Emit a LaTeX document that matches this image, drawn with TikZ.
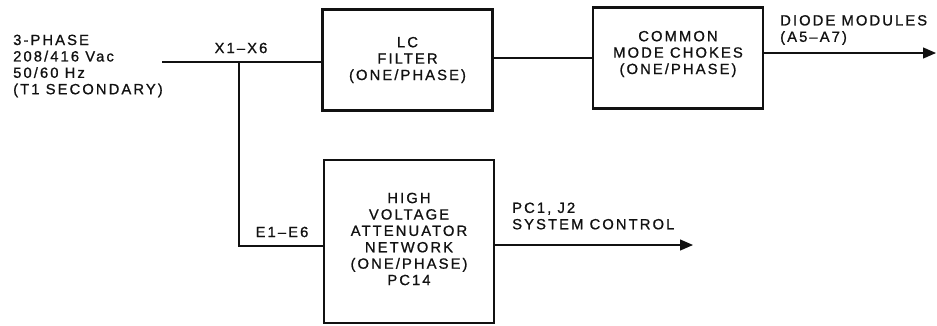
\documentclass[tikz,border=0pt]{standalone}
\usepackage{fontspec}
\setmainfont{Liberation Sans}[LetterSpace=14,FakeBold=0.9]
\usetikzlibrary{arrows.meta,positioning}
\definecolor{PSInk}{HTML}{111111}
\tikzset{
  block/.style={draw=PSInk,line width=2.4pt,minimum width=170pt,inner sep=0pt},
  wire/.style={PSInk,line width=1.3pt},
  feed/.style={wire,-{Triangle[length=13pt,width=11pt]}},
  tag/.style={text=PSInk,font=\fontsize{14.8}{16.4}\selectfont,align=center,inner sep=0pt},
  tagleft/.style={tag,align=left,anchor=west},
}

\begin{document}
\begin{tikzpicture}[x=1pt,y=1pt]
    \useasboundingbox (0,0) rectangle (937,-325);

    \node[tagleft] (source) at (13,-66) {3-PHASE\\208/416 Vac\\50/60 Hz\\(T1 SECONDARY)};

    \node[block,minimum height=101pt] (lc) at (407.5,-60) {};
    \node[tag] (lctext) at (lc) {LC\\FILTER\\(ONE/PHASE)};
    \node[block,minimum height=101pt] (cmc) at (678,-58) {};
    \node[tag] (cmctext) at (678,-54) {COMMON\\MODE CHOKES\\(ONE/PHASE)};
    \node[block,minimum height=163pt] (hv) at (409,-241.5) {};
    \node[tag] (hvtext) at (409,-239) {HIGH\\VOLTAGE\\ATTENUATOR\\NETWORK\\(ONE/PHASE)\\PC14};

    \coordinate (in) at (162,-62);
    \coordinate (tap) at (239,-62);
    \coordinate (bend) at (239,-246);
    \coordinate (diode) at (936,-53);
    \coordinate (ctrl) at (693,-245);

    \draw[wire] (in) -- (in -| lc.west);
    \draw[wire] (tap) -- (bend) -- (bend -| hv.west);
    \draw[wire] (lc.east |- 0,-58) -- (cmc.west |- 0,-58);
    \draw[feed] (diode -| cmc.east) -- (diode);
    \draw[feed] (ctrl -| hv.east) -- (ctrl);

    \node[tag] (xlabel) at (241,-48) {X1–X6};
    \node[tag] (elabel) at (282,-232) {E1–E6};
    \node[tagleft] (diodetext) at (780,-30) {DIODE MODULES\\(A5–A7)};
    \node[tagleft] (ctrltext) at (512,-216) {PC1, J2\\SYSTEM CONTROL};
\end{tikzpicture}
\end{document}
